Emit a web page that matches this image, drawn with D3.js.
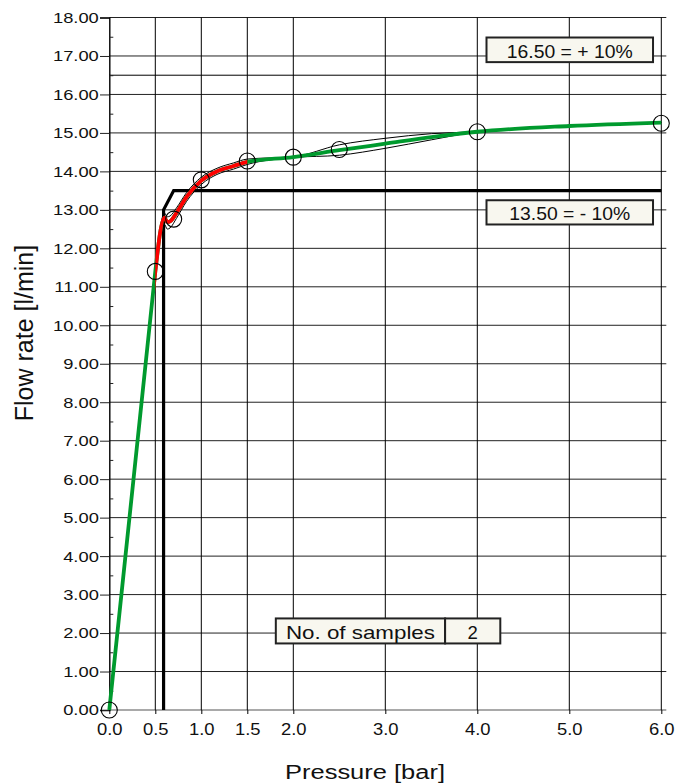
<!DOCTYPE html>
<html>
<head>
<meta charset="utf-8">
<script src="https://cdn.jsdelivr.net/npm/d3@7"></script>
<style>
  html, body { margin: 0; padding: 0; background: #fff; }
  svg { display: block; font-family: "Liberation Sans", Arial, Helvetica, sans-serif; }
</style>
</head>
<body>
<svg id="chart" width="677" height="784"></svg>
<script>
// ---- data ----
const xTicks = [0, 0.5, 1.0, 1.5, 2.0, 3.0, 4.0, 5.0, 6.0];
const yTicks = d3.range(0, 18.01, 1);
const yMinorTicks = d3.range(0.5, 18, 1);

// measured points (circles)
const pointX = [0, 0.5, 0.7, 1.0, 1.5, 2.0, 2.5, 4.0, 6.0];
const pointY = [0, 11.4, 12.76, 13.78, 14.27, 14.37, 14.57, 15.03, 15.25];

// curve x positions
const curveX = [0, 0.5, 0.6, 0.63, 0.66, 0.73, 0.84, 1.0, 1.17, 1.35, 1.5, 2.0, 2.5, 3.0, 3.5, 4.0, 5.0, 6.0];
// mean curve
const meanY  = [0, 11.4, 12.8, 12.68, 12.7, 12.92, 13.34, 13.76, 14.0, 14.14, 14.25, 14.37, 14.55, 14.72, 14.89, 15.03, 15.18, 15.27];
// sample 1 and sample 2 curves
const sample1Y = [0, 11.4, 12.92, 12.82, 12.84, 13.05, 13.45, 13.85, 14.08, 14.22, 14.32, 14.38, 14.69, 14.86, 14.98, 15.03, 15.18, 15.27];
const sample2Y = [0, 11.4, 12.62, 12.5, 12.53, 12.78, 13.22, 13.66, 13.92, 14.06, 14.18, 14.36, 14.42, 14.60, 14.82, 15.03, 15.18, 15.27];

// tolerance limits
const upperLimit = 16.5;
const lowerLimit = 13.5;
const limitX = [0.59, 0.59, 0.70, 6.0];
const limitY = [0, 13.0, 13.5, 13.5];
const redFrom = 0.5, redTo = 1.5;

const upperLabel = "16.50 = + 10%";
const lowerLabel = "13.50 = - 10%";
const samplesLabel = "No. of samples";
const samplesCount = "2";
const xTitle = "Pressure [bar]";
const yTitle = "Flow rate [l/min]";

// ---- scales ----
const svg = d3.select("#chart");
const x = d3.scaleLinear().domain([0, 6]).range([109.3, 661.3]);
const y = d3.scaleLinear().domain([0, 18]).range([710, 17.5]);
const x0 = x(0), x1 = x(6), y0 = y(0), y1 = y(18);

// ---- grid ----
const grid = svg.append("g");
grid.selectAll("line.h").data(yTicks.filter(d => d > 0)).join("line")
  .attr("x1", x0).attr("x2", x1 + 5)
  .attr("y1", d => y(d)).attr("y2", d => y(d))
  .attr("stroke", "#222").attr("stroke-width", 1);
grid.append("line").attr("x1", x0).attr("x2", x1 + 5)
  .attr("y1", y0).attr("y2", y0).attr("stroke", "#555").attr("stroke-width", 1.2);
grid.selectAll("line.v").data(xTicks.filter(d => d > 0)).join("line")
  .attr("x1", d => x(d)).attr("x2", d => x(d))
  .attr("y1", y0).attr("y2", y1)
  .attr("stroke", "#000").attr("stroke-width", 1);

// upper limit line (thin)
svg.append("line").attr("x1", x0).attr("x2", x1 + 5)
  .attr("y1", y(upperLimit)).attr("y2", y(upperLimit))
  .attr("stroke", "#000").attr("stroke-width", 1);

// ---- axes ----
const yAxis = svg.append("g").attr("transform", `translate(${x0},0)`)
  .call(d3.axisLeft(y).tickValues(yTicks).tickFormat(d3.format(".2f")).tickSize(9.3).tickPadding(1.2));
yAxis.select(".domain").attr("stroke", "#000").attr("stroke-width", 1.4);
yAxis.selectAll(".tick line").attr("stroke", "#222");
yAxis.selectAll("text").attr("font-size", 15.4).attr("fill", "#111")
  .attr("font-family", "'Liberation Sans', Arial, sans-serif")
  .each(function() {
    const t = d3.select(this); const tx = +t.attr("x");
    t.attr("transform", `translate(${tx},0) scale(1.19,1) translate(${-tx},0)`);
  });

const yMinor = svg.append("g").attr("transform", `translate(${x0},0)`)
  .call(d3.axisRight(y).tickValues(yMinorTicks).tickFormat("").tickSize(4));
yMinor.select(".domain").remove();
yMinor.selectAll(".tick line").attr("stroke", "#222");

const xAxis = svg.append("g").attr("transform", `translate(0,${y0})`)
  .call(d3.axisBottom(x).tickValues(xTicks).tickFormat(d3.format(".1f")).tickSize(4).tickPadding(10));
xAxis.select(".domain").remove();
xAxis.selectAll(".tick line").attr("stroke", "#000");
xAxis.selectAll("text").attr("font-size", 16).attr("fill", "#111")
  .attr("font-family", "'Liberation Sans', Arial, sans-serif")
  .attr("transform", "scale(1.15,1)");

// ---- limit polyline (thick) ----
const limitData = limitX.map((d, i) => [d, limitY[i]]);
svg.append("path").datum(limitData)
  .attr("d", d3.line().x(d => x(d[0])).y(d => y(d[1])))
  .attr("fill", "none").attr("stroke", "#000").attr("stroke-width", 3.2)
  .attr("stroke-linejoin", "miter");

// ---- curve helper: straight first segment, smooth afterwards ----
const smooth = d3.line().x(d => x(d[0])).y(d => y(d[1])).curve(d3.curveMonotoneX);
function curvePath(ys) {
  const pts = curveX.map((d, i) => [d, ys[i]]);
  const first = `M${x(pts[0][0])},${y(pts[0][1])}L${x(pts[1][0])},${y(pts[1][1])}`;
  const rest = smooth(pts.slice(1)).replace(/^M/, "L");
  return first + rest;
}

// ---- sample curves ----
[sample1Y, sample2Y].forEach(s => {
  svg.append("path").attr("d", curvePath(s))
    .attr("fill", "none").attr("stroke", "#000").attr("stroke-width", 1);
});

// ---- mean curve ----
svg.append("defs").append("clipPath").attr("id", "redClip")
  .append("rect").attr("x", x(redFrom)).attr("width", x(redTo) - x(redFrom))
  .attr("y", 0).attr("height", 784);
svg.append("path").attr("d", curvePath(meanY))
  .attr("fill", "none").attr("stroke", "#009a2e").attr("stroke-width", 3.8)
  .attr("stroke-linejoin", "round");
svg.append("path").attr("d", curvePath(meanY))
  .attr("clip-path", "url(#redClip)")
  .attr("fill", "none").attr("stroke", "#ff0000").attr("stroke-width", 3.8)
  .attr("stroke-linejoin", "round");

// ---- points ----
svg.selectAll("circle.pt").data(pointX.map((d, i) => [d, pointY[i]])).join("circle")
  .attr("cx", d => x(d[0])).attr("cy", d => y(d[1])).attr("r", 8)
  .attr("fill", "none").attr("stroke", "#000").attr("stroke-width", 1.1);

// ---- label boxes ----
function box(xa, xb, ya, yb, text, tl) {
  svg.append("rect").attr("x", x(xa)).attr("y", y(ya))
    .attr("width", x(xb) - x(xa)).attr("height", y(yb) - y(ya))
    .attr("fill", "#f8f7ef").attr("stroke", "#222").attr("stroke-width", 2);
  const t = svg.append("text").attr("x", (x(xa) + x(xb)) / 2).attr("y", y(yb) - 4.5)
    .attr("text-anchor", "middle").attr("font-size", 18.5).attr("fill", "#111").text(text);
  if (tl) t.attr("textLength", tl).attr("lengthAdjust", "spacingAndGlyphs");
}
box(4.10, 5.91, 17.48, 16.84, upperLabel, 126);
box(4.10, 5.91, 13.25, 12.62, lowerLabel, 121);
box(1.81, 3.65, 2.38, 1.73, samplesLabel, 149);
box(3.65, 4.25, 2.38, 1.73, samplesCount, null);

// ---- titles ----
svg.append("text").attr("x", 365).attr("y", 779).attr("text-anchor", "middle")
  .attr("font-size", 20).attr("fill", "#111")
  .attr("textLength", 160).attr("lengthAdjust", "spacingAndGlyphs").text(xTitle);
svg.append("text").attr("transform", "translate(33,333) rotate(-90)")
  .attr("text-anchor", "middle").attr("font-size", 25).attr("fill", "#111").text(yTitle);
</script>
</body>
</html>
